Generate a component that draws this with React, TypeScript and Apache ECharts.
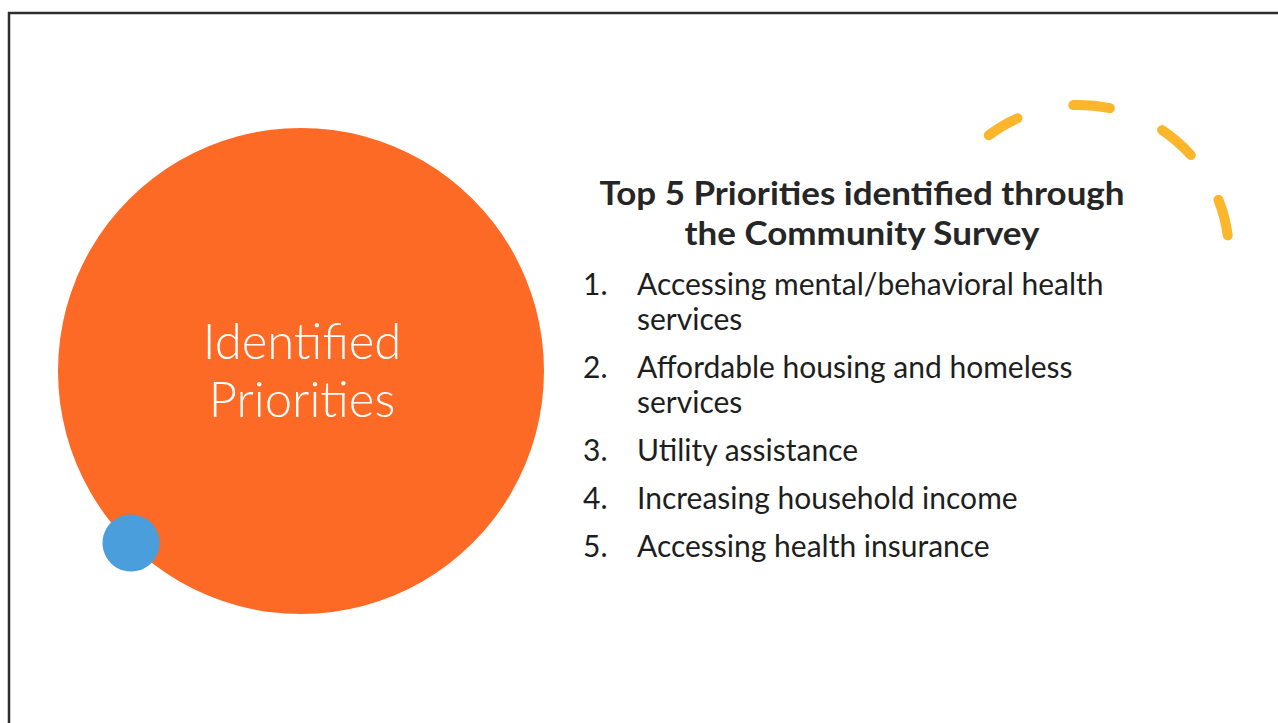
import React, { useEffect, useRef } from "react";
import * as echarts from "echarts";

const titleLines = ["Top 5 Priorities identified through", "the Community Survey"];
const circleLabel = ["Identified", "Priorities"];
const priorities: string[][] = [
  ["Accessing mental/behavioral health", "services"],
  ["Affordable housing and homeless", "services"],
  ["Utility assistance"],
  ["Increasing household income"],
  ["Accessing health insurance"],
];
// dashed arc segments, degrees (counter-clockwise from east)
const dashAngles: number[][] = [
  [112.3, 128.9],
  [76.2, 94.1],
  [39.9, 58.3],
  [5.6, 23.5],
];

const W = 1278;
const H = 723;

export default function App() {
  const ref = useRef<HTMLDivElement>(null);
  useEffect(() => {
    if (!ref.current) return;
    const chart = echarts.init(ref.current, undefined, { renderer: "svg", width: W, height: H });
    const graphic: any[] = [];
    // frame
    graphic.push({ type: "line", shape: { x1: 8, y1: 13, x2: W, y2: 13 }, style: { stroke: "#2e2e2e", lineWidth: 2.5 } });
    graphic.push({ type: "line", shape: { x1: 9, y1: 12, x2: 9, y2: H }, style: { stroke: "#2e2e2e", lineWidth: 2.5 } });
    // big orange circle
    graphic.push({ type: "circle", shape: { cx: 301, cy: 371, r: 243 }, style: { fill: "#FC6A25" } });
    graphic.push({ type: "circle", shape: { cx: 131, cy: 543, r: 28.5 }, style: { fill: "#4A9EDC" } });
    circleLabel.forEach((t, i) => {
      graphic.push({
        type: "text",
        x: 302,
        y: 340 + i * 58,
        style: { text: t, fill: "#ffffff", font: "300 49px Lato", textAlign: "center", textVerticalAlign: "middle" },
      });
    });
    // dashed arc
    const cx = 1079, cy = 255, r = 150, capDeg = (5 / r) * 180 / Math.PI;
    dashAngles.forEach(([a1, a2]) => {
      graphic.push({
        type: "arc",
        shape: {
          cx, cy, r,
          startAngle: (-(a2 - capDeg) * Math.PI) / 180,
          endAngle: (-(a1 + capDeg) * Math.PI) / 180,
          clockwise: true,
        },
        style: { stroke: "#FBB62B", lineWidth: 10, lineCap: "round", fill: "none" },
      });
    });
    // title
    titleLines.forEach((t, i) => {
      graphic.push({
        type: "text",
        x: 862,
        y: 192 + i * 40,
        scaleX: 1.06,
        style: { text: t, fill: "#262626", font: "bold 33px Lato", textAlign: "center", textVerticalAlign: "middle" },
      });
    });
    // list
    let y = 283;
    priorities.forEach((lines, i) => {
      graphic.push({
        type: "text",
        x: 583,
        y,
        style: { text: `${i + 1}.`, fill: "#1e1e1e", font: "30px Lato", textVerticalAlign: "middle" },
      });
      lines.forEach((ln, j) => {
        graphic.push({
          type: "text",
          x: 637,
          y: y + j * 35,
          style: { text: ln, fill: "#1e1e1e", font: "30px Lato", textVerticalAlign: "middle" },
        });
      });
      y += (lines.length - 1) * 35 + 48;
    });
    chart.setOption({ animation: false, backgroundColor: "#ffffff", graphic });
    return () => chart.dispose();
  }, []);
  return <div ref={ref} style={{ position: "absolute", left: 0, top: 0, width: W, height: H }} />;
}
